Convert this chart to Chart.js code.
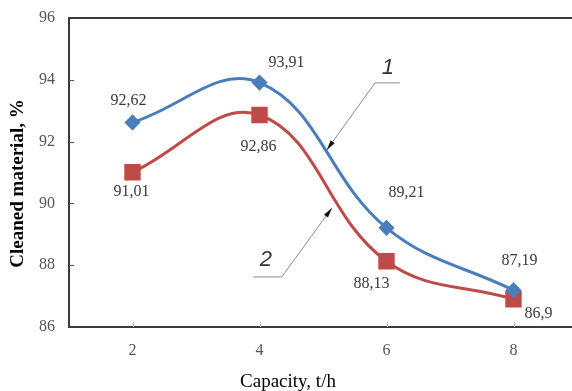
<!DOCTYPE html>
<html>
<head>
<meta charset="utf-8">
<script src="https://cdn.jsdelivr.net/npm/chart.js@4.4.0/dist/chart.umd.min.js"></script>
<style>
  html, body { margin: 0; padding: 0; background: #fff; overflow: hidden; }
  canvas { display: block; }
</style>
</head>
<body>
<canvas id="chart" width="577" height="391"></canvas>
<script>
        // data
        const capacity = [2, 4, 6, 8];
        const curve1 = [92.62, 93.91, 89.21, 87.19];
        const curve2 = [91.01, 92.86, 88.13, 86.9];
        const yTicks = [86, 88, 90, 92, 94, 96];

        // label offsets in px from each point
        const offs1 = [[-4, -22], [27, -20], [20, -35], [6, -29]];
        const offs2 = [[-1, 20], [-1, 32], [-15, 23], [25, 15]];

        // curve callouts in data units: label, elbow start, elbow end, arrow tip
        const callouts = [
            { text: '1', label: [6.02, 94.38], a: [6.21, 93.9], b: [5.82, 93.9], tip: [5.06, 91.73] },
            { text: '2', label: [4.10, 88.17], a: [3.90, 87.62], b: [4.35, 87.62], tip: [5.14, 89.85] }
        ];

        const BLUE = '#4a7ebb';
        const RED = '#be4b48';
        const SERIF = '"Liberation Serif", "Times New Roman", serif';

        const toXY = arr => arr.map((v, i) => ({ x: capacity[i], y: v }));
        const fmt = v => String(v).replace('.', ',');
        const noPad = s => { s.paddingTop = 0; s.paddingBottom = 0; s.paddingLeft = 0; s.paddingRight = 0; };

        const overlay = {
            id: 'overlay',
            afterDraw(chart) {
                const { ctx, chartArea: a, scales: { x, y } } = chart;
                ctx.save();

                // top frame line
                ctx.strokeStyle = '#3a3a3a';
                ctx.lineWidth = 2;
                ctx.beginPath();
                ctx.moveTo(a.left, a.top);
                ctx.lineTo(a.right, a.top);
                ctx.stroke();

                // inward ticks
                ctx.lineWidth = 1;
                ctx.strokeStyle = '#555';
                yTicks.slice(1, -1).forEach(v => {
                    const py = Math.round(y.getPixelForValue(v)) + 0.5;
                    ctx.beginPath();
                    ctx.moveTo(a.left, py);
                    ctx.lineTo(a.left + 5, py);
                    ctx.stroke();
                });
                ctx.strokeStyle = '#bbb';
                capacity.forEach(v => {
                    const px = Math.round(x.getPixelForValue(v)) + 0.5;
                    ctx.beginPath();
                    ctx.moveTo(px, a.bottom);
                    ctx.lineTo(px, a.bottom - 5);
                    ctx.stroke();
                });

                // value labels
                ctx.fillStyle = '#3a3a3a';
                ctx.font = '16px ' + SERIF;
                ctx.textAlign = 'center';
                ctx.textBaseline = 'middle';
                [[curve1, offs1], [curve2, offs2]].forEach(([vals, offs]) => {
                    vals.forEach((v, i) => {
                        const px = x.getPixelForValue(capacity[i]);
                        const py = y.getPixelForValue(v);
                        ctx.fillText(fmt(v), px + offs[i][0], py + offs[i][1]);
                    });
                });

                // callouts
                callouts.forEach(c => {
                    const P = p => [x.getPixelForValue(p[0]), y.getPixelForValue(p[1])];
                    const [ax, ay] = P(c.a), [bx, by] = P(c.b), [tx, ty] = P(c.tip), [lx, ly] = P(c.label);
                    ctx.strokeStyle = '#8a8a8a';
                    ctx.lineWidth = 1;
                    ctx.beginPath();
                    ctx.moveTo(ax, ay);
                    ctx.lineTo(bx, by);
                    ctx.lineTo(tx, ty);
                    ctx.stroke();
                    const ang = Math.atan2(ty - by, tx - bx);
                    ctx.fillStyle = '#111';
                    ctx.beginPath();
                    ctx.moveTo(tx, ty);
                    ctx.lineTo(tx - 10 * Math.cos(ang) + 2.5 * Math.sin(ang), ty - 10 * Math.sin(ang) - 2.5 * Math.cos(ang));
                    ctx.lineTo(tx - 10 * Math.cos(ang) - 2.5 * Math.sin(ang), ty - 10 * Math.sin(ang) + 2.5 * Math.cos(ang));
                    ctx.closePath();
                    ctx.fill();
                    ctx.fillStyle = '#333';
                    ctx.font = 'italic 22px "Liberation Sans", sans-serif';
                    ctx.fillText(c.text, lx, ly);
                });

                // axis titles
                ctx.fillStyle = '#000';
                ctx.font = '19px ' + SERIF;
                ctx.fillText('Capacity, t/h', a.left + 219, a.bottom + 55);
                ctx.translate(a.left - 51, (a.top + a.bottom) / 2 + 11);
                ctx.rotate(-Math.PI / 2);
                ctx.font = 'bold 19px ' + SERIF;
                ctx.fillText('Cleaned material, %', 0, 0);

                ctx.restore();
            }
        };

        document.addEventListener('DOMContentLoaded', function() {
            const ctx = document.getElementById('chart').getContext('2d');
            new Chart(ctx, {
                type: 'line',
                data: {
                    datasets: [{
                        label: '1',
                        data: toXY(curve1),
                        borderColor: BLUE,
                        backgroundColor: BLUE,
                        borderWidth: 3,
                        pointStyle: 'rectRot',
                        pointRadius: 6,
                        tension: 0.4
                    }, {
                        label: '2',
                        data: toXY(curve2),
                        borderColor: RED,
                        backgroundColor: RED,
                        borderWidth: 3,
                        pointStyle: 'rect',
                        pointRadius: 9.5,
                        tension: 0.4
                    }]
                },
                options: {
                    responsive: false,
                    animation: false,
                    layout: { autoPadding: false, padding: { top: 18, right: 0, left: 0, bottom: 0 } },
                    plugins: {
                        legend: { display: false },
                        tooltip: { enabled: false }
                    },
                    scales: {
                        x: {
                            type: 'linear',
                            min: 1,
                            max: 9,
                            afterBuildTicks: s => { s.ticks = capacity.map(v => ({ value: v })); },
                            afterFit: s => { s.height = 64; noPad(s); },
                            grid: { display: false, drawTicks: false },
                            border: { display: true, color: '#3a3a3a', width: 2 },
                            ticks: { color: '#555', padding: 14, font: { family: SERIF, size: 16 } }
                        },
                        y: {
                            min: 86,
                            max: 96,
                            afterBuildTicks: s => { s.ticks = yTicks.map(v => ({ value: v })); },
                            afterFit: s => { s.width = 69; noPad(s); },
                            grid: { display: false, drawTicks: false },
                            border: { display: true, color: '#3a3a3a', width: 2 },
                            ticks: { color: '#555', padding: 14, font: { family: SERIF, size: 16 } }
                        }
                    }
                },
                plugins: [overlay]
            });
        });
</script>
</body>
</html>
